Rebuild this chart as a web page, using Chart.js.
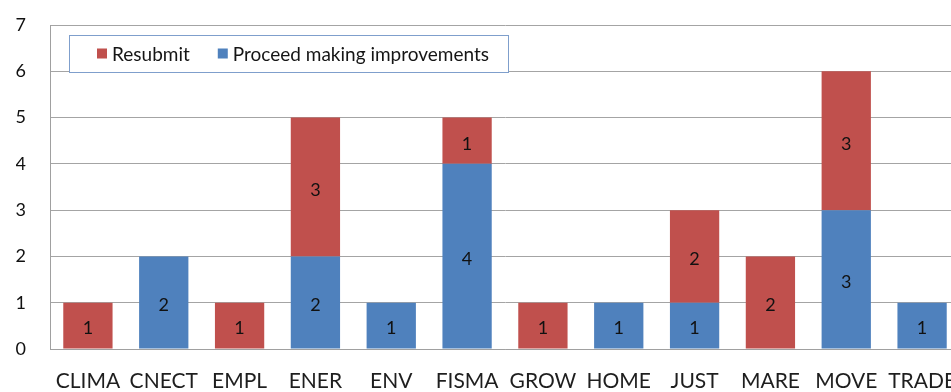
<!DOCTYPE html>
<html>
<head>
<meta charset="utf-8">
<title>Review outcome by DG</title>
<script src="https://cdn.jsdelivr.net/npm/chart.js@4.4.0/dist/chart.umd.min.js"></script>
<style>
  html, body { margin: 0; padding: 0; background: #fff; overflow: hidden; }
  #wrap { width: 962px; height: 392px; position: relative; }
</style>
</head>
<body>
<div id="wrap"><canvas id="reviewChart"></canvas></div>
<script>
// Opinions per DG, split by outcome
const departments = ['CLIMA', 'CNECT', 'EMPL', 'ENER', 'ENV', 'FISMA', 'GROW', 'HOME', 'JUST', 'MARE', 'MOVE', 'TRADE'];
const proceedValues = [0, 2, 0, 2, 1, 4, 0, 1, 1, 0, 3, 1];
const resubmitValues = [1, 0, 1, 3, 0, 1, 1, 0, 2, 2, 3, 0];
const yMax = 7;

const RED = '#C0504D';
const BLUE = '#4F81BD';
const FONT = 'Lato, "Open Sans", sans-serif';

// number in the middle of each non-empty segment (sits a touch low)
const segmentLabels = {
  id: 'segmentLabels',
  afterDatasetsDraw(chart) {
    const ctx = chart.ctx;
    ctx.save();
    ctx.font = '18px ' + FONT;
    ctx.fillStyle = '#111';
    ctx.textAlign = 'center';
    ctx.textBaseline = 'middle';
    chart.data.datasets.forEach((ds, i) => {
      chart.getDatasetMeta(i).data.forEach((bar, j) => {
        const v = ds.data[j];
        if (!v) return;
        ctx.fillText(String(v), bar.x, (bar.y + bar.base) / 2 + 3);
      });
    });
    ctx.restore();
  }
};

// boxed legend sitting inside the plot, Resubmit first
const boxedLegend = {
  id: 'boxedLegend',
  afterDraw(chart) {
    const ctx = chart.ctx;
    const area = chart.chartArea;
    const x0 = area.left + 19, y0 = area.top + 10, w = 439, h = 37;
    ctx.save();
    ctx.fillStyle = '#fff';
    ctx.fillRect(x0, y0, w, h);
    ctx.strokeStyle = '#7f9fcc';
    ctx.lineWidth = 1;
    ctx.strokeRect(x0 + 0.5, y0 + 0.5, w, h);
    ctx.font = '19px ' + FONT;
    ctx.textBaseline = 'middle';
    let x = x0 + 28;
    const cy = y0 + h / 2;
    chart.data.datasets.slice().reverse().forEach(ds => {
      ctx.fillStyle = ds.backgroundColor;
      ctx.fillRect(x, cy - 5, 10, 10);
      ctx.fillStyle = '#151515';
      ctx.fillText(ds.label, x + 15, cy + 1);
      x += 15 + ctx.measureText(ds.label).width + 28;
    });
    ctx.restore();
  }
};

new Chart(document.getElementById('reviewChart'), {
  type: 'bar',
  data: {
    labels: departments,
    datasets: [
      { label: 'Proceed making improvements', data: proceedValues, backgroundColor: BLUE },
      { label: 'Resubmit', data: resubmitValues, backgroundColor: RED }
    ]
  },
  options: {
    responsive: true,
    maintainAspectRatio: false,
    animation: false,
    layout: { padding: { left: 16, top: 25, right: 2, bottom: 0 } },
    datasets: { bar: { barPercentage: 0.65, categoryPercentage: 1 } },
    plugins: { legend: { display: false }, tooltip: { enabled: false } },
    scales: {
      x: {
        stacked: true,
        grid: { display: false, drawTicks: false },
        border: { color: '#a0a0a0', width: 1 },
        ticks: { color: '#1e1e1e', padding: 22, autoSkip: false, minRotation: 0, maxRotation: 0,
                 font: { family: FONT, size: 21, lineHeight: 1 } },
        afterFit(scale) {
          scale.height = 43;
          scale.paddingLeft = 0;
          scale.paddingRight = 0;
        }
      },
      y: {
        stacked: true,
        min: 0,
        max: yMax,
        grid: { color: '#a4a4a4', drawTicks: false },
        border: { color: '#a0a0a0', width: 1 },
        ticks: { stepSize: 1, color: '#111', padding: 24, font: { family: FONT, size: 18 } },
        afterFit(scale) {
          scale.width = 34;
          scale.paddingTop = 0;
          scale.paddingBottom = 0;
        }
      }
    }
  },
  plugins: [segmentLabels, boxedLegend]
});
</script>
</body>
</html>
